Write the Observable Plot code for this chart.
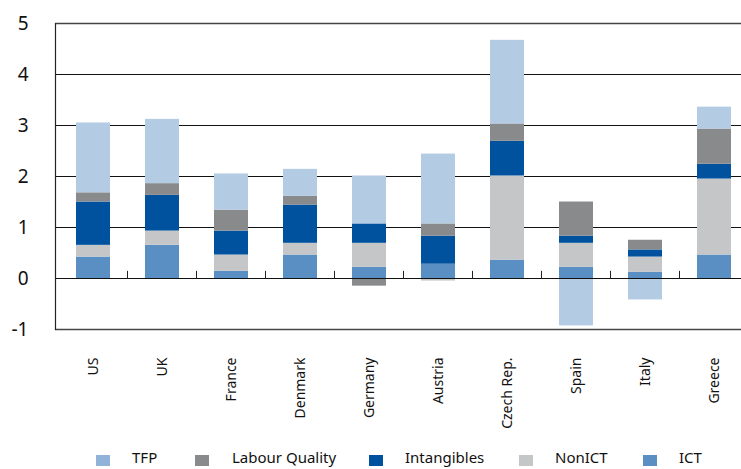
<!DOCTYPE html>
<html>
<head>
<meta charset="utf-8">
<script src="https://cdn.jsdelivr.net/npm/d3@7"></script>
<script src="https://cdn.jsdelivr.net/npm/@observablehq/plot@0.6"></script>
<style>
  html, body { margin: 0; padding: 0; background: #fff; overflow: hidden; }
  #wrap { position: relative; width: 741px; height: 469px; font-family: "Noto Sans", sans-serif; }
  .leg { position: absolute; top: 446px; height: 22px; line-height: 22px; font-size: 15px; color: #111; white-space: nowrap; }
  .sw { position: absolute; width: 14px; height: 11px; top: 455px; }
</style>
</head>
<body>
<div id="wrap"></div>
<script>
const categories = ["US","UK","France","Denmark","Germany","Austria","Czech Rep.","Spain","Italy","Greece"];
const series = ["ICT","NonICT","Intangibles","Labour Quality","TFP"];
const ict         = [0.42, 0.65, 0.14, 0.46, 0.22, 0.28, 0.36, 0.22, 0.12, 0.46];
const nonict      = [0.23, 0.28, 0.32, 0.23, 0.47, -0.05, 1.65, 0.47, 0.30, 1.49];
const intangibles = [0.85, 0.70, 0.47, 0.75, 0.38, 0.55, 0.68, 0.14, 0.14, 0.29];
const labour      = [0.18, 0.23, 0.41, 0.17, -0.15, 0.24, 0.34, 0.67, 0.19, 0.69];
const tfp         = [1.37, 1.26, 0.71, 0.53, 0.94, 1.37, 1.64, -0.93, -0.42, 0.43];
const yTicks = [-1, 0, 1, 2, 3, 4, 5];
const gridTicks = [1, 2, 3, 4];
const legendOrder = ["TFP","Labour Quality","Intangibles","NonICT","ICT"];

const colors = {"ICT":"#5a8fc3","NonICT":"#c5c6c8","Intangibles":"#00529f","Labour Quality":"#898a8c","TFP":"#b3cbe3"};
const legendColors = {"ICT":"#5a8fc3","NonICT":"#c5c6c8","Intangibles":"#00529f","Labour Quality":"#898a8c","TFP":"#92b3d9"};

const valuesBySeries = {"ICT": ict, "NonICT": nonict, "Intangibles": intangibles, "Labour Quality": labour, "TFP": tfp};
const data = [];
for (const s of series) {
  categories.forEach((c, i) => data.push({country: c, series: s, value: valuesBySeries[s][i]}));
}

const chart = Plot.plot({
  width: 741,
  height: 440,
  marginLeft: 55,
  marginRight: 0,
  marginTop: 23,
  marginBottom: 111,
  style: {fontFamily: "Noto Sans, sans-serif", color: "#111", background: "transparent"},
  x: {domain: categories, range: [55, 752], paddingInner: 0.51, paddingOuter: 0.27},
  y: {domain: [-1, 5]},
  color: {domain: series, range: series.map(s => colors[s])},
  marks: [
    Plot.ruleY(gridTicks, {stroke: "#111", strokeWidth: 1}),
    Plot.ruleY([5, -1], {stroke: "#444", strokeWidth: 1.5}),
    Plot.barY(data, {x: "country", y: "value", fill: "series", z: "series"}),
    Plot.ruleY([0], {stroke: "#111", strokeWidth: 1}),
    Plot.ruleX(categories, {x: d => d, y1: 0, y2: 0.14, dx: 34, stroke: "#222", strokeWidth: 1}),
    Plot.frame({anchor: "left", stroke: "#222", strokeWidth: 1.2}),
    Plot.axisY({ticks: yTicks, tickSize: 0, tickPadding: 27, fontSize: 19, tickFormat: d => String(d), label: null}),
    Plot.axisX({tickRotate: -90, tickSize: 0, tickPadding: 28, fontSize: 14, label: null})
  ]
});

const wrap = document.getElementById("wrap");
wrap.appendChild(chart);
chart.style.position = "absolute";
chart.style.left = "0px";
chart.style.top = "0px";

const legendX = {"TFP": [96, 132], "Labour Quality": [195, 232], "Intangibles": [369, 405], "NonICT": [519, 555], "ICT": [643, 679]};
for (const s of legendOrder) {
  const sw = document.createElement("div");
  sw.className = "sw";
  sw.style.left = legendX[s][0] + "px";
  sw.style.background = legendColors[s];
  wrap.appendChild(sw);
  const t = document.createElement("div");
  t.className = "leg";
  t.style.left = legendX[s][1] + "px";
  t.textContent = s;
  wrap.appendChild(t);
}
</script>
</body>
</html>
